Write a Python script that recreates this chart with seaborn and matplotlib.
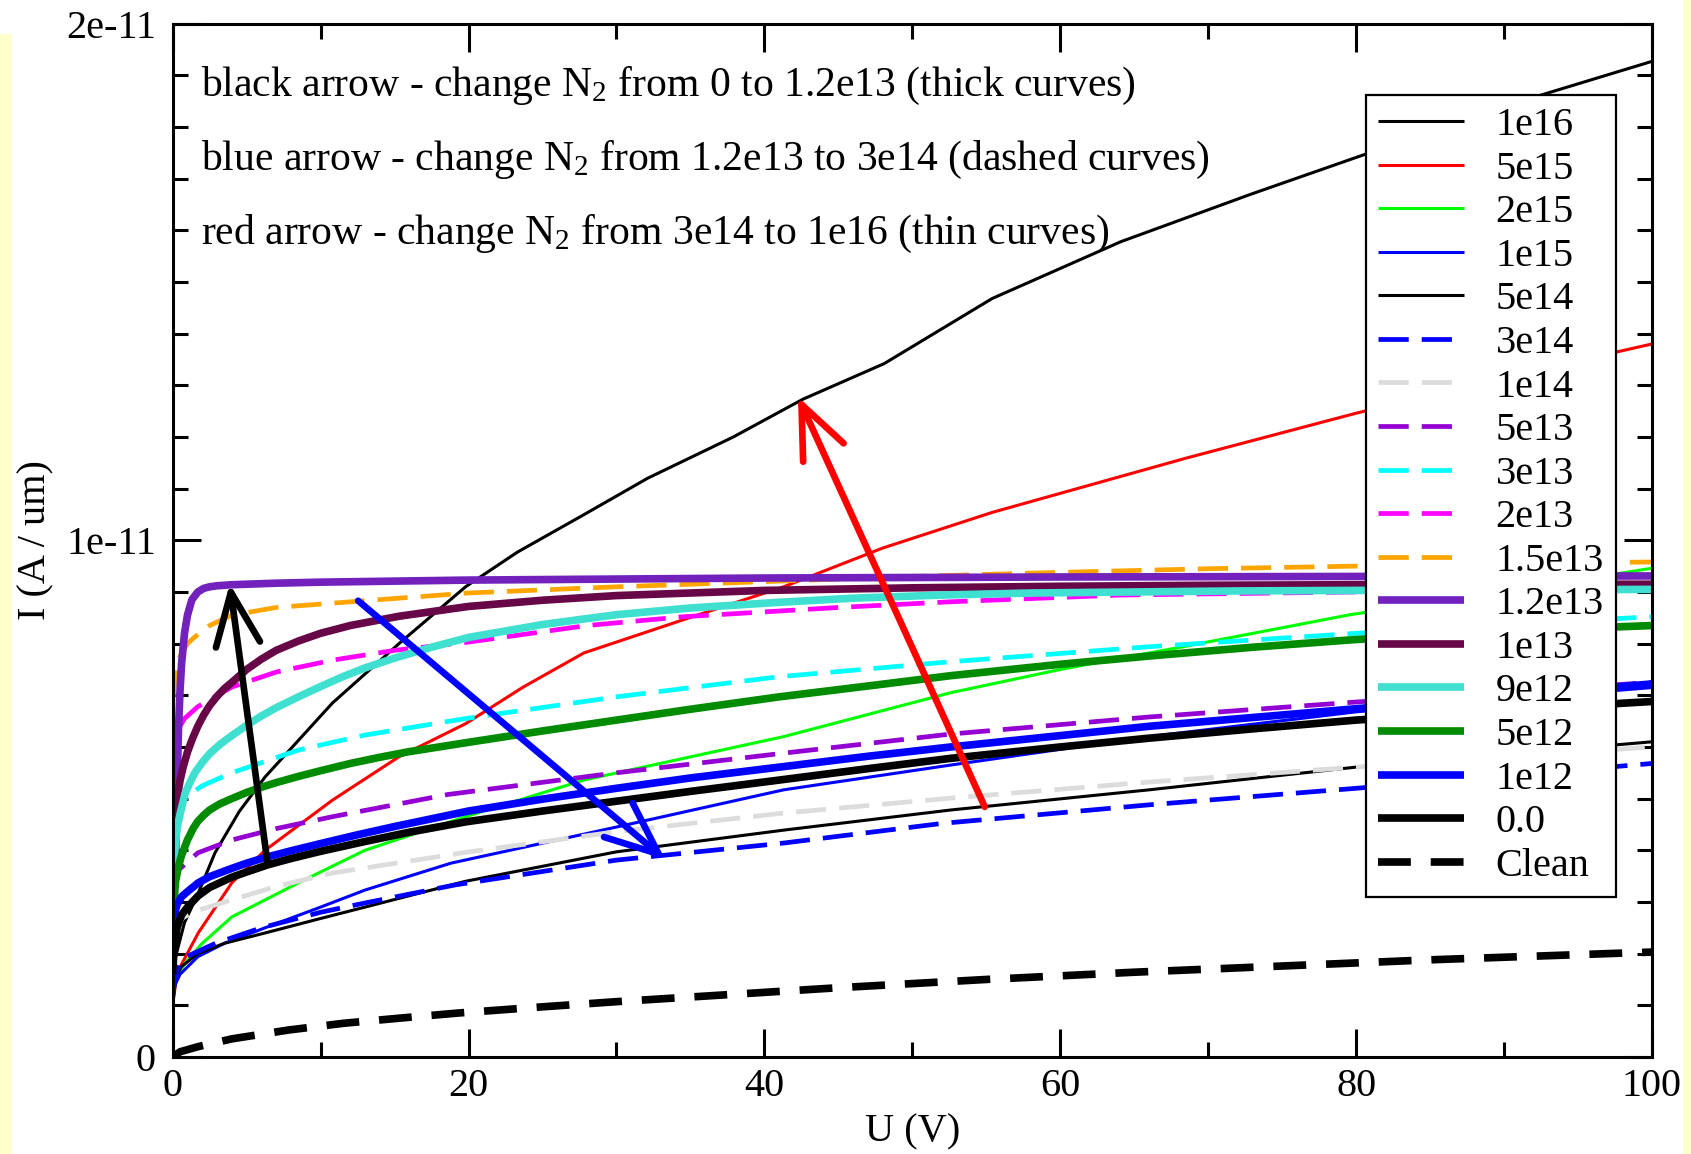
import numpy as np
import pandas as pd
import matplotlib
matplotlib.use("Agg")
import matplotlib.pyplot as plt
from matplotlib.patches import Rectangle
from matplotlib.ticker import MultipleLocator
import seaborn as sns

# ---------------- data (U in V, I in units of 1e-12 A/um) ----------------
U_1e16 = [0, 0.2, 0.8, 1.73, 2.86, 4.5, 6.25, 10.8, 15.3, 19.8, 23.3, 27.7, 32.1, 37.9, 42.6, 48.1, 55.4, 64.1, 72.9, 80.2, 90, 100]
I_1e16 = [0.9, 1.94, 2.6, 3.17, 3.95, 4.75, 5.42, 6.85, 8.0, 9.1, 9.77, 10.48, 11.2, 12.0, 12.73, 13.42, 14.68, 15.78, 16.7, 17.43, 18.4, 19.27]

U_5e15 = [0, 0.3, 1.73, 4, 6.25, 10.8, 15.3, 19.8, 23.7, 27.8, 34.5, 41.3, 48, 55.4, 68.5, 80, 90, 100]
I_5e15 = [1.0, 1.63, 2.4, 3.37, 4.0, 4.97, 5.81, 6.45, 7.16, 7.82, 8.46, 9.1, 9.85, 10.54, 11.59, 12.46, 13.15, 13.8]

U_2e15 = [0, 0.3, 0.84, 2, 4, 8.5, 13, 19.8, 27.8, 41.3, 52.6, 60, 68.3, 79.6, 90, 100]
I_2e15 = [1.2, 1.55, 1.82, 2.2, 2.71, 3.37, 4.0, 4.65, 5.36, 6.2, 7.05, 7.5, 7.94, 8.56, 9.0, 9.46]

U_1e15 = [0, 0.1, 0.5, 1.7, 3.5, 6.25, 10, 13, 18.8, 30, 41.3, 52.6, 66, 80, 100]
I_1e15 = [1.1, 1.36, 1.6, 1.94, 2.2, 2.5, 2.9, 3.23, 3.75, 4.45, 5.17, 5.65, 6.2, 6.68, 7.15]

U_5e14 = [0, 0.2, 0.6, 1.7, 3.5, 6.25, 10, 13, 19.8, 30, 41.3, 52.6, 66, 80, 100]
I_5e14 = [1.0, 1.55, 1.75, 2.0, 2.2, 2.4, 2.68, 2.9, 3.4, 3.97, 4.39, 4.78, 5.17, 5.61, 6.1]

U_3e14 = [0, 0.3, 1, 2.9, 6, 10, 13, 19.1, 30, 41.3, 52, 66, 80, 100]
I_3e14 = [1.2, 1.7, 1.95, 2.2, 2.5, 2.8, 2.98, 3.33, 3.81, 4.14, 4.52, 4.88, 5.2, 5.68]

U_1e14 = [0, 0.4, 1.5, 4, 7, 10.8, 19.8, 30, 41.3, 52.6, 66, 80, 100]
I_1e14 = [2.3, 2.65, 2.82, 3.04, 3.3, 3.56, 3.96, 4.36, 4.72, 5.01, 5.32, 5.61, 6.0]

U_5e13 = [0, 0.4, 1.7, 4, 7, 10.8, 18.6, 30, 41.3, 52.6, 66, 80, 100]
I_5e13 = [3.2, 3.62, 3.95, 4.2, 4.42, 4.65, 5.08, 5.5, 5.88, 6.25, 6.58, 6.87, 7.25]

U_3e13 = [0, 0.3, 1, 2, 4, 8.5, 13, 19.8, 30, 41, 52.6, 66, 80, 90, 100]
I_3e13 = [4.5, 4.8, 5.05, 5.25, 5.5, 5.94, 6.23, 6.55, 6.97, 7.36, 7.65, 7.94, 8.2, 8.37, 8.52]

U_2e13 = [0, 0.3, 0.8, 1.7, 4, 7, 10.8, 15, 20, 28, 34.5, 45, 52.6, 64, 80, 100]
I_2e13 = [5.6, 6.3, 6.55, 6.78, 7.16, 7.45, 7.68, 7.87, 8.03, 8.35, 8.52, 8.7, 8.81, 8.94, 9.0, 9.05]

U_15e13 = [0, 0.2, 0.5, 1, 1.5, 2.5, 4, 7, 12.5, 20, 30, 40, 50, 60, 70, 80, 90, 100]
I_15e13 = [6.9, 7.4, 7.75, 8.0, 8.13, 8.35, 8.55, 8.7, 8.82, 8.98, 9.1, 9.2, 9.3, 9.38, 9.45, 9.5, 9.55, 9.58]

U_12e13 = [0, 0.1, 0.2, 0.3, 0.4, 0.5, 0.6, 0.8, 1.0, 1.3, 1.7, 2.1, 2.5, 3, 4, 7, 10, 20, 40, 60, 80, 100]
I_12e13 = [2.0, 3.0, 3.9, 5.3, 6.4, 7.1, 7.6, 8.2, 8.55, 8.85, 9.0, 9.07, 9.1, 9.12, 9.14, 9.17, 9.19, 9.23, 9.27, 9.29, 9.30, 9.31]

U_1e13 = [0, 0.15, 0.3, 0.5, 0.7, 1, 1.35, 1.7, 2.1, 2.5, 3, 3.5, 4, 5, 6, 7, 8.5, 10, 12, 15.3, 20, 25, 30, 40, 50, 60, 70, 80, 90, 100]
I_1e13 = [4.3, 4.7, 5.0, 5.35, 5.6, 5.9, 6.17, 6.4, 6.62, 6.8, 6.98, 7.13, 7.25, 7.5, 7.7, 7.87, 8.05, 8.2, 8.35, 8.53, 8.72, 8.84, 8.93, 9.03, 9.08, 9.11, 9.13, 9.14, 9.15, 9.15]

U_9e12 = [0, 0.1, 0.2, 0.35, 0.5, 0.84, 1.2, 1.5, 2, 2.5, 3.2, 4, 5, 6, 7, 8.5, 10, 11.5, 13, 15, 17.5, 20, 25, 30, 35, 41, 46, 52, 58, 65, 72, 80, 90, 100]
I_9e12 = [3.2, 3.8, 4.2, 4.5, 4.7, 5.1, 5.33, 5.5, 5.7, 5.87, 6.05, 6.22, 6.42, 6.6, 6.76, 6.97, 7.17, 7.36, 7.53, 7.72, 7.93, 8.12, 8.37, 8.56, 8.69, 8.8, 8.88, 8.94, 8.98, 9.0, 9.02, 9.03, 9.04, 9.05]

U_5e12 = [0, 0.1, 0.2, 0.4, 0.6, 1, 1.4, 1.7, 2.1, 2.5, 3.2, 4, 5, 6, 7, 8.5, 10, 12, 14, 16, 18, 20, 25, 30, 35, 41, 47, 52.6, 60, 66, 73, 80, 90, 100]
I_5e12 = [2.7, 3.1, 3.4, 3.7, 3.9, 4.2, 4.43, 4.56, 4.68, 4.78, 4.9, 5.0, 5.12, 5.22, 5.31, 5.43, 5.54, 5.68, 5.8, 5.91, 6.0, 6.09, 6.31, 6.52, 6.73, 6.97, 7.18, 7.38, 7.6, 7.76, 7.93, 8.08, 8.24, 8.35]

U_1e12 = [0, 0.1, 0.3, 0.6, 1, 1.73, 2.5, 4, 5, 6.25, 8, 10, 12.5, 15, 17.5, 20, 25, 30, 35, 41.3, 47, 52.6, 60, 66, 73, 80, 90, 100]
I_1e12 = [2.5, 2.75, 2.95, 3.1, 3.2, 3.37, 3.49, 3.65, 3.75, 3.86, 3.99, 4.13, 4.3, 4.46, 4.61, 4.76, 4.99, 5.2, 5.4, 5.62, 5.82, 6.0, 6.22, 6.4, 6.57, 6.74, 6.98, 7.22]

U_0 = [0, 0.1, 0.3, 0.6, 1, 1.73, 2.5, 4, 5, 6.45, 8, 10, 13, 16, 19.8, 25, 30, 35, 41.3, 47, 52.6, 60, 66, 73, 80, 90, 100]
I_0 = [1.6, 2.1, 2.5, 2.75, 2.9, 3.12, 3.28, 3.48, 3.58, 3.72, 3.84, 3.98, 4.17, 4.35, 4.55, 4.76, 4.95, 5.14, 5.37, 5.58, 5.78, 6.0, 6.17, 6.35, 6.52, 6.71, 6.88]

U_clean = [0, 0.5, 1.73, 4, 7.8, 11.5, 15.3, 19.3, 25, 30, 35, 40, 45, 50, 55, 60, 65, 70, 75, 80, 85, 90, 95, 100]
I_clean = [0, 0.1, 0.2, 0.35, 0.52, 0.65, 0.75, 0.85, 0.97, 1.07, 1.16, 1.25, 1.34, 1.42, 1.5, 1.57, 1.64, 1.7, 1.76, 1.82, 1.88, 1.93, 1.98, 2.03]

labels = ["1e16", "5e15", "2e15", "1e15", "5e14", "3e14", "1e14", "5e13", "3e13",
          "2e13", "1.5e13", "1.2e13", "1e13", "9e12", "5e12", "1e12", "0.0", "Clean"]
U_all = [U_1e16, U_5e15, U_2e15, U_1e15, U_5e14, U_3e14, U_1e14, U_5e13, U_3e13,
         U_2e13, U_15e13, U_12e13, U_1e13, U_9e12, U_5e12, U_1e12, U_0, U_clean]
I_all = [I_1e16, I_5e15, I_2e15, I_1e15, I_5e14, I_3e14, I_1e14, I_5e13, I_3e13,
         I_2e13, I_15e13, I_12e13, I_1e13, I_9e12, I_5e12, I_1e12, I_0, I_clean]

y_ticks = [0, 1e-11, 2e-11]
y_ticklabels = ["0", "1e-11", "2e-11"]
x_ticks = [0, 20, 40, 60, 80, 100]

annotations = ["black arrow - change N$_2$ from 0 to 1.2e13 (thick curves)",
               "blue arrow - change N$_2$ from 1.2e13 to 3e14 (dashed curves)",
               "red arrow - change N$_2$ from 3e14 to 1e16 (thin curves)"]

# ---------------- styles ----------------
THIN, MED, THICK = 2.2, 3.4, 5.5
DASH_M = (0, (6.4, 2.75))
DASH_C = (0, (4.3, 2.6))
styles = {
    "1e16": ("#000000", THIN, "-"),
    "5e15": ("#FF0000", THIN, "-"),
    "2e15": ("#00FF00", THIN, "-"),
    "1e15": ("#0000FF", THIN, "-"),
    "5e14": ("#000000", THIN, "-"),
    "3e14": ("#0000FF", MED, DASH_M),
    "1e14": ("#DCDCDC", MED, DASH_M),
    "5e13": ("#9400D3", MED, DASH_M),
    "3e13": ("#00FFFF", MED, DASH_M),
    "2e13": ("#FF00FF", MED, DASH_M),
    "1.5e13": ("#FFA500", MED, DASH_M),
    "1.2e13": ("#7221BC", THICK, "-"),
    "1e13": ("#670748", THICK, "-"),
    "9e12": ("#40E0D0", THICK, "-"),
    "5e12": ("#008B00", THICK, "-"),
    "1e12": ("#0000FF", THICK, "-"),
    "0.0": ("#000000", THICK, "-"),
    "Clean": ("#000000", THICK, DASH_C),
}

frames = []
for lab, u, i in zip(labels, U_all, I_all):
    frames.append(pd.DataFrame({"U": u, "I": np.array(i) * 1e-12, "set": lab}))
df = pd.concat(frames, ignore_index=True)

sns.set_theme(style="ticks")
plt.rcParams.update({
    "font.family": ["Liberation Serif", "DejaVu Serif"],
    "mathtext.fontset": "custom",
    "mathtext.rm": "Liberation Serif",
    "mathtext.it": "Liberation Serif:italic",
    "mathtext.bf": "Liberation Serif:bold",
    "axes.linewidth": 2.2,
    "text.color": "black",
    "axes.labelcolor": "black",
    "xtick.color": "black",
    "ytick.color": "black",
    "lines.solid_capstyle": "butt",
    "lines.dash_capstyle": "butt",
})

FS = 29
fig = plt.figure(figsize=(16.91, 11.54), dpi=100)
fig.patch.set_facecolor("white")
fig.patches.append(Rectangle((0, 0), 12 / 1691, 1 - 34 / 1154, transform=fig.transFigure,
                             facecolor="#FFFFCC", edgecolor="none", zorder=-5))
fig.patches.append(Rectangle((1683 / 1691, 0), 8 / 1691, 1, transform=fig.transFigure,
                             facecolor="#FFFFCC", edgecolor="none", zorder=-5))

ax = fig.add_axes([0.1021, 0.0841, 0.8748, 0.8954])
ax.set_facecolor("white")

for z, lab in enumerate(labels):
    c, lw, ls = styles[lab]
    sub = df[df["set"] == lab]
    sns.lineplot(data=sub, x="U", y="I", ax=ax, color=c, linewidth=lw, linestyle=ls,
                 label=lab, estimator=None, sort=False, zorder=2 + z * 0.01)

ax.set_xlim(0, 100)
ax.set_ylim(0, 2e-11)
ax.set_xticks(x_ticks)
ax.set_xticklabels([str(t) for t in x_ticks])
ax.set_yticks(y_ticks)
ax.set_yticklabels(y_ticklabels)
ax.xaxis.set_minor_locator(MultipleLocator(10))
ax.yaxis.set_minor_locator(MultipleLocator(1e-12))
ax.tick_params(which="both", direction="in", top=True, right=True, width=2.2, labelsize=FS)
ax.tick_params(which="major", length=20)
ax.tick_params(which="minor", length=11)
ax.tick_params(axis="x", which="major", pad=8)
ax.tick_params(axis="y", which="major", pad=12)
for s in ax.spines.values():
    s.set_linewidth(2.2)
    s.set_color("black")

ax.set_xlabel("U (V)", fontsize=FS, labelpad=6)
ax.set_ylabel("I (A / um)", fontsize=FS, labelpad=8)

# annotation texts
for k, txt in enumerate(annotations):
    ax.text(0.0195, 0.930 - k * 0.0718, txt, transform=ax.transAxes, fontsize=30,
            va="baseline", ha="left", zorder=10)

# arrows
arrow_specs = [((3.86, 9.16e-12), (6.41, 3.76e-12), "black"),
               ((33.3, 3.82e-12), (12.54, 8.83e-12), "#0000FF"),
               ((42.27, 12.78e-12), (54.9, 4.84e-12), "#FF0000")]
for tip, tail, col in arrow_specs:
    ax.annotate("", xy=tip, xytext=tail, zorder=20,
                arrowprops=dict(arrowstyle="->,head_length=1.9,head_width=0.8",
                                mutation_scale=20, color=col, lw=4.8,
                                shrinkA=0, shrinkB=0))

leg = ax.legend(loc="upper right", bbox_to_anchor=(0.9757, 0.931), fontsize=FS,
                frameon=True, fancybox=False, framealpha=1, edgecolor="black",
                handlelength=2.13, handletextpad=0.79, borderpad=0.3,
                labelspacing=0.158, borderaxespad=0)
leg.get_frame().set_linewidth(1.6)
leg.set_zorder(30)

fig.savefig("out.png", dpi=100)
